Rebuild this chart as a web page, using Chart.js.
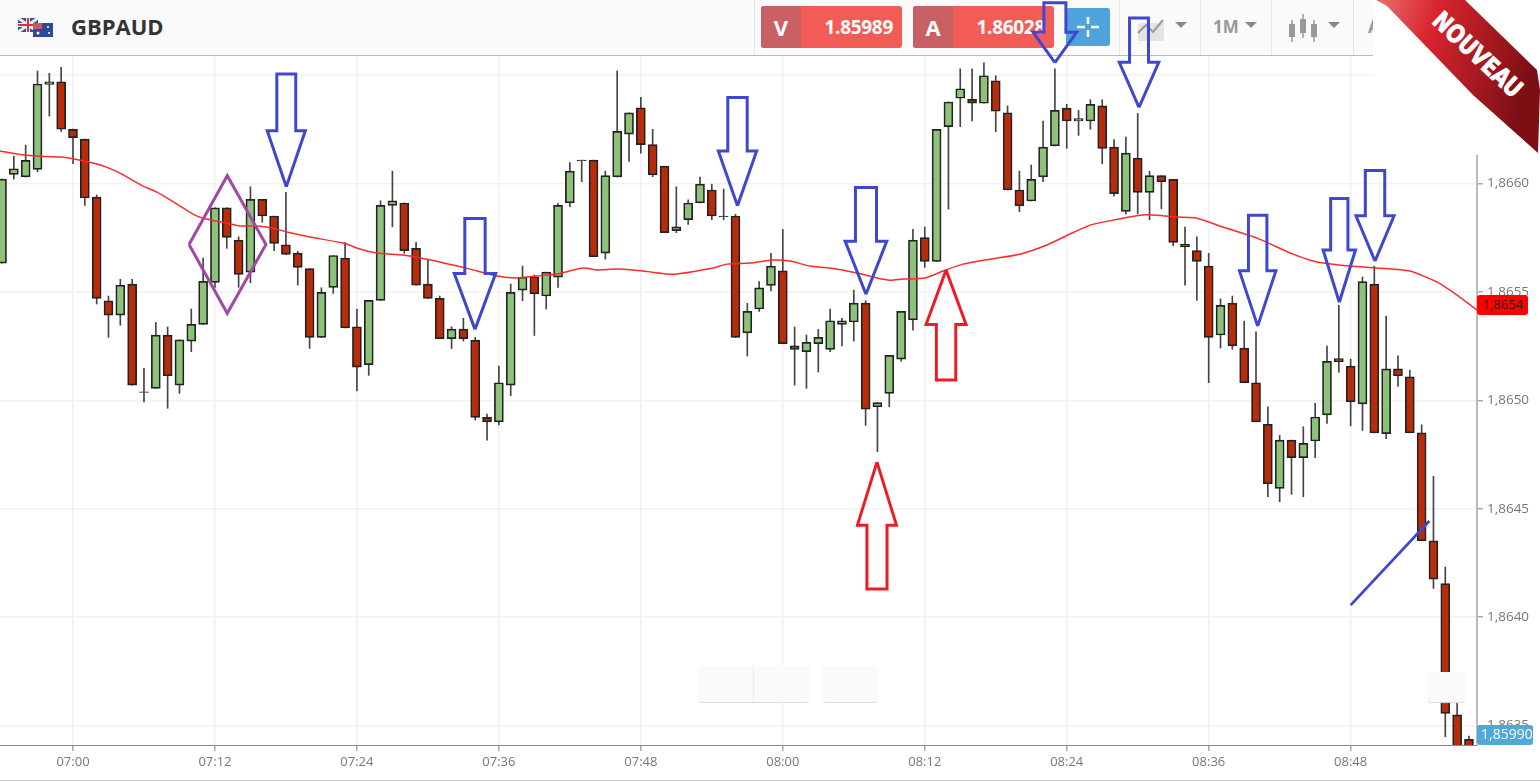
<!DOCTYPE html>
<html>
<head>
<meta charset="utf-8">
<title>GBPAUD</title>
<script src="https://cdn.jsdelivr.net/npm/chart.js@4"></script>
<style>
html, body { margin: 0; padding: 0; background: #fff; overflow: hidden; }
body { width: 1540px; height: 782px; position: relative; font-family: "Open Sans", sans-serif; }
#header { position: absolute; left: 0; top: 0; width: 1540px; height: 55px; background: #fafafa; border-bottom: 1px solid #bbb; z-index: 1; }
#wrap { position: absolute; left: 0; top: 0; width: 1540px; height: 782px; z-index: 2; }
#bottomline { position: absolute; left: 0; top: 780px; width: 1540px; height: 1px; background: #ccc; z-index: 1; }
#title { position: absolute; left: 71px; top: 11px; font-size: 22px; font-weight: 700; color: #333; }
.sep { position: absolute; top: 0; width: 1px; height: 55px; background: #e6e6e6; }
.quote { position: absolute; top: 6px; width: 141px; height: 42px; background: #f25c57; border-radius: 3px; color: #fff; }
.quote b { position: absolute; left: 0; top: 0; width: 40px; height: 42px; background: #c96063; border-radius: 3px 0 0 3px; text-align: center; font-size: 22px; line-height: 42px; }
.quote span { position: absolute; right: 9px; top: 0; font-size: 19px; font-weight: 700; letter-spacing: -0.3px; line-height: 42px; }
#cross { position: absolute; left: 1066px; top: 8px; width: 44px; height: 38px; background: #4fa3dd; border-radius: 3px; }
.tool { position: absolute; top: 15px; color: #999; font-size: 17px; font-weight: 700; }
.caret { position: absolute; top: 22px; width: 0; height: 0; border-left: 6px solid transparent; border-right: 6px solid transparent; border-top: 6px solid #888; }
.box { position: absolute; background: #fafafa; border-radius: 3px; box-shadow: 0 1px 1px #ddd; z-index: 3; }
#cover { position: absolute; left: 1373px; top: 0; width: 167px; height: 155px; background: #fff; z-index: 3; }
#ribbon { position: absolute; left: 1373px; top: 0; z-index: 4; }
</style>
</head>
<body>
<div id="header">
  <svg style="position:absolute;left:18px;top:18px" width="36" height="20">
    <rect x="0" y="0" width="20" height="14" fill="#35508f"/>
    <path d="M0 0L20 14M20 0L0 14" stroke="#eee" stroke-width="3"/>
    <path d="M10 0V14M0 7H20" stroke="#eee" stroke-width="4"/>
    <path d="M10 0V14M0 7H20" stroke="#d0343f" stroke-width="2"/>
    <rect x="15" y="5" width="20" height="14" fill="#2b4a9b"/>
    <rect x="15" y="5" width="9" height="6" fill="#c9586a"/>
    <circle cx="20" cy="15" r="1.5" fill="#fff"/><circle cx="30" cy="9" r="1" fill="#fff"/><circle cx="31" cy="15" r="1" fill="#fff"/>
  </svg>
  <div id="title">GBPAUD</div>
  <div class="sep" style="left:754px"></div>
  <div class="quote" style="left:761px"><b>V</b><span>1.85989</span></div>
  <div class="quote" style="left:913px"><b>A</b><span>1.86028</span></div>
  <div id="cross">
    <svg width="44" height="38"><path d="M22 9V16M22 22V29M11 19H19M25 19H33" stroke="#fff" stroke-width="2.5"/></svg>
  </div>
  <div class="sep" style="left:1119px"></div>
  <svg style="position:absolute;left:1136px;top:17px" width="32" height="24">
    <rect x="2" y="6" width="26" height="18" fill="#e4e4e4"/>
    <path d="M2 16L10 8L17 15L27 3" stroke="#999" stroke-width="2" fill="none"/>
  </svg>
  <div class="caret" style="left:1175px"></div>
  <div class="sep" style="left:1200px"></div>
  <div class="tool" style="left:1213px">1M</div>
  <div class="caret" style="left:1245px"></div>
  <div class="sep" style="left:1271px"></div>
  <svg style="position:absolute;left:1287px;top:13px" width="32" height="32">
    <path d="M5 7V29M16 1V25M27 7V29" stroke="#999" stroke-width="1.5"/>
    <rect x="2" y="11" width="6" height="13" fill="#999"/><rect x="13" y="6" width="6" height="14" fill="#999"/><rect x="24" y="11" width="6" height="13" fill="#999"/>
  </svg>
  <div class="caret" style="left:1328px"></div>
  <div class="sep" style="left:1353px"></div>
  <div class="tool" style="left:1368px">A</div>
</div>
<div id="bottomline"></div>
<div id="wrap"><canvas id="chart" width="1540" height="782"></canvas></div>
<div id="cover"></div>
<div class="box" style="left:699px;top:665px;width:110px;height:37px"></div>
<div class="box" style="left:753px;top:665px;width:1px;height:37px;background:#eee"></div>
<div class="box" style="left:823px;top:665px;width:54px;height:37px"></div>
<div class="box" style="left:1428px;top:672px;width:37px;height:30px"></div>
<svg id="ribbon" width="167" height="160">
  <defs>
    <linearGradient id="rib" x1="0" y1="0" x2="1" y2="0.3">
      <stop offset="0" stop-color="#e9716f"/><stop offset="0.35" stop-color="#d8252e"/><stop offset="1" stop-color="#7d0f14"/>
    </linearGradient>
  </defs>
  <polygon points="3,0 92,0 164,70 167,90 165,153 100,95 14,6" fill="url(#rib)"/>
  <text x="0" y="0" transform="translate(64,16) rotate(43)" fill="#fff" stroke="#fff" stroke-width="0.8" font-family="Liberation Sans Narrow, DejaVu Sans Condensed, sans-serif" font-weight="700" font-size="25" textLength="112" lengthAdjust="spacingAndGlyphs" dy="9">NOUVEAU</text>
</svg>
<script>
// minutes counted from 07:00, one candle per minute
var firstMinute = -6;
var timeLabels = ["07:00", "07:12", "07:24", "07:36", "07:48", "08:00", "08:12", "08:24", "08:36", "08:48"];

var opens = [
  1.865633, 1.866042, 1.866030, 1.866065, 1.866457, 1.866469, 1.866250, 1.866205, 1.865937, 1.865459,
  1.865393, 1.865536, 1.865036, 1.865055, 1.865301, 1.865070, 1.865273, 1.865350, 1.865544, 1.865888,
  1.865739, 1.865591, 1.865927, 1.865850, 1.865717, 1.865679, 1.865607, 1.865290, 1.865521, 1.865656,
  1.865339, 1.865164, 1.865461, 1.865899, 1.865910, 1.865701, 1.865536, 1.865470, 1.865284, 1.865328,
  1.865278, 1.864921, 1.864900, 1.865070, 1.865508, 1.865570, 1.865481, 1.865568, 1.865910, 1.866105,
  1.866108, 1.865679, 1.866030, 1.866228, 1.866349, 1.866179, 1.866080, 1.865782, 1.865833, 1.865910,
  1.865970, 1.865847, 1.865850, 1.865311, 1.865421, 1.865530, 1.865597, 1.865251, 1.865224, 1.865261,
  1.865235, 1.865350, 1.865361, 1.865448, 1.864970, 1.865032, 1.865190, 1.865371, 1.865750, 1.865641,
  1.866262, 1.866393, 1.866388, 1.866370, 1.866474, 1.866326, 1.865970, 1.865919, 1.866030, 1.866173,
  1.866348, 1.866288, 1.866288, 1.866358, 1.866168, 1.865871, 1.866117, 1.865959, 1.866036, 1.866019,
  1.865719, 1.865690, 1.865619, 1.865301, 1.865448, 1.865241, 1.865081, 1.864889, 1.864594, 1.864816,
  1.864735, 1.864812, 1.864933, 1.865192, 1.865158, 1.864983, 1.865536, 1.864846, 1.865145, 1.865108,
  1.864850, 1.864352, 1.864154, 1.863549, 1.863436
];
var closes = [
  1.866020, 1.866068, 1.866107, 1.866459, 1.866469, 1.866250, 1.866211, 1.865933, 1.865470, 1.865393,
  1.865531, 1.865070, 1.865039, 1.865301, 1.865113, 1.865279, 1.865350, 1.865549, 1.865888, 1.865751,
  1.865581, 1.865927, 1.865850, 1.865724, 1.865673, 1.865613, 1.865290, 1.865498, 1.865668, 1.865334,
  1.865153, 1.865461, 1.865899, 1.865920, 1.865690, 1.865531, 1.865470, 1.865284, 1.865328, 1.865284,
  1.864921, 1.864900, 1.865081, 1.865498, 1.865568, 1.865491, 1.865591, 1.865899, 1.866057, 1.866108,
  1.865662, 1.866036, 1.866240, 1.866326, 1.866179, 1.866040, 1.865773, 1.865800, 1.865910, 1.865997,
  1.865850, 1.865850, 1.865290, 1.865410, 1.865519, 1.865619, 1.865261, 1.865235, 1.865267, 1.865290,
  1.865367, 1.865367, 1.865448, 1.864959, 1.864989, 1.865207, 1.865410, 1.865739, 1.865641, 1.866250,
  1.866376, 1.866437, 1.866370, 1.866497, 1.866333, 1.865970, 1.865897, 1.866019, 1.866168, 1.866337,
  1.866288, 1.866299, 1.866365, 1.866162, 1.865953, 1.866140, 1.865959, 1.866036, 1.866008, 1.865728,
  1.865707, 1.865641, 1.865290, 1.865438, 1.865251, 1.865081, 1.864900, 1.864615, 1.864816, 1.864735,
  1.864801, 1.864923, 1.865180, 1.865178, 1.864993, 1.865547, 1.864850, 1.865145, 1.865113, 1.864850,
  1.864352, 1.864175, 1.863556, 1.863341, 1.863341
];
var highs = [
  1.866020, 1.866126, 1.866177, 1.866519, 1.866508, 1.866536, 1.866251, 1.866205, 1.865947, 1.865481,
  1.865558, 1.865558, 1.865147, 1.865359, 1.865338, 1.865279, 1.865421, 1.865656, 1.865888, 1.865888,
  1.865754, 1.865985, 1.865927, 1.865850, 1.865959, 1.865687, 1.865607, 1.865519, 1.865668, 1.865727,
  1.865421, 1.865461, 1.865920, 1.866057, 1.865910, 1.865728, 1.865647, 1.865481, 1.865339, 1.865378,
  1.865290, 1.864936, 1.865158, 1.865536, 1.865619, 1.865578, 1.865591, 1.865908, 1.866096, 1.866108,
  1.866108, 1.866057, 1.866519, 1.866326, 1.866397, 1.866250, 1.866080, 1.865985, 1.865925, 1.866030,
  1.865997, 1.865974, 1.865858, 1.865447, 1.865547, 1.865678, 1.865788, 1.865338, 1.865301, 1.865327,
  1.865421, 1.865378, 1.865508, 1.865459, 1.864989, 1.865207, 1.865410, 1.865788, 1.865799, 1.866250,
  1.866376, 1.866529, 1.866529, 1.866557, 1.866497, 1.866358, 1.866057, 1.866085, 1.866288, 1.866529,
  1.866365, 1.866337, 1.866386, 1.866386, 1.866203, 1.866214, 1.866323, 1.866057, 1.866036, 1.866019,
  1.865799, 1.865754, 1.865678, 1.865468, 1.865481, 1.865365, 1.865316, 1.864970, 1.864838, 1.864816,
  1.864878, 1.864986, 1.865250, 1.865438, 1.865190, 1.865568, 1.865619, 1.865388, 1.865205, 1.865139,
  1.864887, 1.864650, 1.864231, 1.863617, 1.863451
];
var lows = [
  1.865633, 1.866020, 1.866030, 1.866054, 1.866311, 1.866240, 1.866091, 1.865899, 1.865444, 1.865290,
  1.865346, 1.865070, 1.864993, 1.865055, 1.864963, 1.865032, 1.865224, 1.865350, 1.865521, 1.865701,
  1.865521, 1.865542, 1.865821, 1.865690, 1.865673, 1.865531, 1.865239, 1.865290, 1.865493, 1.865334,
  1.865043, 1.865115, 1.865461, 1.865800, 1.865678, 1.865531, 1.865470, 1.865284, 1.865239, 1.865273,
  1.864909, 1.864816, 1.864886, 1.865021, 1.865459, 1.865299, 1.865421, 1.865521, 1.865893, 1.866008,
  1.865662, 1.865651, 1.866030, 1.866102, 1.866140, 1.866031, 1.865773, 1.865773, 1.865811, 1.865910,
  1.865833, 1.865833, 1.865290, 1.865204, 1.865410, 1.865504, 1.865261, 1.865070, 1.865055, 1.865130,
  1.865224, 1.865251, 1.865273, 1.864884, 1.864763, 1.864970, 1.865180, 1.865323, 1.865613, 1.865641,
  1.865882, 1.866262, 1.866288, 1.866370, 1.866239, 1.865970, 1.865870, 1.865919, 1.866008, 1.866173,
  1.866162, 1.866222, 1.866250, 1.866091, 1.865942, 1.865860, 1.865860, 1.865833, 1.865883, 1.865713,
  1.865531, 1.865461, 1.865081, 1.865241, 1.865235, 1.865081, 1.864900, 1.864555, 1.864532, 1.864566,
  1.864555, 1.864735, 1.864893, 1.865129, 1.864882, 1.864861, 1.864850, 1.864823, 1.865064, 1.864850,
  1.864352, 1.864132, 1.863448, 1.863318, 1.863295
];

var maMinutes = [
  -6.17, -4.14, -2.79, -0.93, 1.01, 2.03, 3.04, 3.97, 5.92, 7.10, 8.79, 10.14, 10.99, 13.02, 14.12, 15.55, 16.91, 18.09, 20.03, 22.82,
  24.26, 25.70, 27.90, 29.92, 32.12, 33.56, 35.84, 37.53, 39.22, 40.91, 43.11, 44.29, 45.98, 48.18, 50.21, 51.06, 54.10, 55.28, 57.23, 59.17,
  60.61, 62.30, 63.99, 66.27, 67.96, 69.06, 70.16, 72.02, 73.54, 75.23, 77.51, 80.05, 82.33, 84.28, 85.97, 87.91, 90.19, 91.63, 93.32, 95.01,
  97.21, 100.08, 103.13, 105.16, 107.95, 110.24, 113.02, 115.31, 117.00, 118.68
];
var maValues = [
  1.866150, 1.866131, 1.866126, 1.866122, 1.866103, 1.866090, 1.866071, 1.866048, 1.865988, 1.865960,
  1.865905, 1.865859, 1.865840, 1.865817, 1.865804, 1.865804, 1.865794, 1.865776, 1.865753, 1.865725,
  1.865698, 1.865679, 1.865670, 1.865651, 1.865624, 1.865605, 1.865573, 1.865564, 1.865573, 1.865582,
  1.865610, 1.865601, 1.865605, 1.865596, 1.865582, 1.865582, 1.865610, 1.865628, 1.865633, 1.865647,
  1.865642, 1.865619, 1.865610, 1.865587, 1.865564, 1.865554, 1.865559, 1.865564, 1.865596, 1.865628,
  1.865651, 1.865674, 1.865716, 1.865767, 1.865808, 1.865831, 1.865854, 1.865854, 1.865845, 1.865840,
  1.865799, 1.865748, 1.865674, 1.865638, 1.865619, 1.865610, 1.865596, 1.865545, 1.865485, 1.865416
];

// hand drawn arrows, in minutes and price: tip, head base, tail end, half widths
var blueArrowTipMinutes = [18.03, 33.98, 56.17, 67.03, 83.00, 90.11, 100.14, 107.04, 110.06];
var blueArrowTipPrices = [1.865985, 1.865327, 1.865897, 1.865489, 1.866557, 1.866351, 1.865342, 1.865452, 1.865642];
var blueArrowBasePrices = [1.866243, 1.865585, 1.866150, 1.865734, 1.866697, 1.866559, 1.865597, 1.865693, 1.865851];
var blueArrowEndPrices = [1.866505, 1.865839, 1.866397, 1.865982, 1.866834, 1.866763, 1.865854, 1.865931, 1.866060];
var blueArrowHeadHalf = [1.61, 1.75, 1.62, 1.76, 1.84, 1.67, 1.54, 1.37, 1.61];
var blueArrowShaftHalf = [0.80, 0.86, 0.82, 0.89, 0.93, 0.80, 0.78, 0.73, 0.82];

var redArrowTipMinutes = [67.96, 73.80];
var redArrowTipPrices = [1.864715, 1.865601];
var redArrowBasePrices = [1.864424, 1.865350];
var redArrowEndPrices = [1.864129, 1.865093];
var redArrowHeadHalf = [1.65, 1.69];
var redArrowShaftHalf = [0.85, 0.82];

var diamondMinutes = [9.81, 13.04, 16.31, 13.04, 9.81];
var diamondPrices = [1.865719, 1.866036, 1.865719, 1.865401, 1.865719];
var slashMinutes = [108.00, 114.65];
var slashPrices = [1.864055, 1.864443];

var currentBid = "1,85990";

function pairs(xs, ys) {
    return xs.map(function(x, i) { return { x: x, y: ys[i] }; });
}

function arrowPoints(tx, tip, base, end, head, shaft) {
    return [
        { x: tx, y: tip }, { x: tx - head, y: base }, { x: tx - shaft, y: base }, { x: tx - shaft, y: end },
        { x: tx + shaft, y: end }, { x: tx + shaft, y: base }, { x: tx + head, y: base }, { x: tx, y: tip }
    ];
}

function shape(points, color, width) {
    return {
        type: "line",
        data: points,
        borderColor: color,
        borderWidth: width,
        pointRadius: 0,
        tension: 0,
        fill: false,
        clip: false,
        order: 0
    };
}

var greenBody = "#8cc279", redBody = "#b82c0c", flatBody = "#444";

var wickData = highs.map(function(h, i) { return { x: firstMinute + i, y: [lows[i], h] }; });
var bodyData = opens.map(function(o, i) { return { x: firstMinute + i, y: [o, closes[i]] }; });
var bodyColors = opens.map(function(o, i) {
    if (Math.abs(closes[i] - o) < 0.000006) return flatBody;
    return closes[i] >= o ? greenBody : redBody;
});

var datasets = [
    { type: "bar", data: wickData, backgroundColor: "#444", borderWidth: 0, barThickness: 1, grouped: false, order: 3 },
    { type: "bar", data: bodyData, backgroundColor: bodyColors, borderColor: "#222", borderWidth: 1.7, borderSkipped: false, barThickness: 9, grouped: false, order: 2 },
    { type: "line", data: pairs(maMinutes, maValues), borderColor: "#fb2b2b", borderWidth: 1.5, pointRadius: 0, tension: 0.2, fill: false, order: 1 },
    shape(pairs(diamondMinutes, diamondPrices), "#a349a4", 3),
    shape(pairs(slashMinutes, slashPrices), "#3f48cc", 2.8)
];
blueArrowTipMinutes.forEach(function(tx, i) {
    datasets.push(shape(arrowPoints(tx, blueArrowTipPrices[i], blueArrowBasePrices[i], blueArrowEndPrices[i], blueArrowHeadHalf[i], blueArrowShaftHalf[i]), "#3f48cc", 3));
});
redArrowTipMinutes.forEach(function(tx, i) {
    datasets.push(shape(arrowPoints(tx, redArrowTipPrices[i], redArrowBasePrices[i], redArrowEndPrices[i], redArrowHeadHalf[i], redArrowShaftHalf[i]), "#ed1c24", 3));
});

var priceTags = {
    id: "priceTags",
    afterDraw: function(chart) {
        var c = chart.ctx, a = chart.chartArea, y = chart.scales.y;
        var last = maValues[maValues.length - 1];
        var py = y.getPixelForValue(last) - 5;
        c.save();
        c.textBaseline = "middle";
        c.textAlign = "left";
        c.font = "13px 'Open Sans'";
        c.fillStyle = "#ff0000";
        c.beginPath();
        c.roundRect(a.right, py - 10, 51, 20, 3);
        c.fill();
        c.fillStyle = "#222";
        c.fillText(last.toFixed(4).replace(".", ","), a.right + 6, py);
        c.fillStyle = "#4fa8d8";
        c.beginPath();
        c.roundRect(a.right, a.bottom - 20, 56, 20, 3);
        c.fill();
        c.fillStyle = "#fff";
        c.font = "14px 'Open Sans'";
        c.fillText(currentBid, a.right + 4, a.bottom - 10);
        c.restore();
    }
};

Chart.defaults.font.family = "'Open Sans'";

var ctx = document.getElementById("chart");
new Chart(ctx, {
    data: { datasets: datasets },
    plugins: [priceTags],
    options: {
        responsive: false,
        devicePixelRatio: 1,
        animation: false,
        events: [],
        layout: { padding: { top: 56, left: 0, right: 0, bottom: 0 } },
        plugins: { legend: { display: false }, tooltip: { enabled: false } },
        scales: {
            x: {
                type: "linear",
                offset: false,
                min: -6.17,
                max: 118.68,
                afterFit: function(s) { s.height = 37; },
                border: { color: "#888", width: 1 },
                grid: { offset: false, color: "#f2f2f2", lineWidth: 1.5, tickColor: "#aaa", tickLength: 6 },
                ticks: {
                    stepSize: 12,
                    includeBounds: false,
                    maxRotation: 0,
                    autoSkip: false,
                    color: "#777",
                    font: { size: 13 },
                    padding: 3,
                    callback: function(v) { return timeLabels[v / 12]; }
                }
            },
            y: {
                type: "linear",
                position: "right",
                min: 1.86341,
                max: 1.866588,
                afterFit: function(s) { s.width = 63; },
                border: { color: "#bbb", width: 2 },
                grid: { color: "#f2f2f2", lineWidth: 1.5, tickColor: "#aaa", tickLength: 6 },
                ticks: {
                    stepSize: 0.0005,
                    includeBounds: false,
                    color: "#777",
                    font: { size: 13.5 },
                    padding: 4,
                    callback: function(v) { return v.toFixed(4).replace(".", ","); }
                }
            }
        }
    }
});
</script>
</body>
</html>
